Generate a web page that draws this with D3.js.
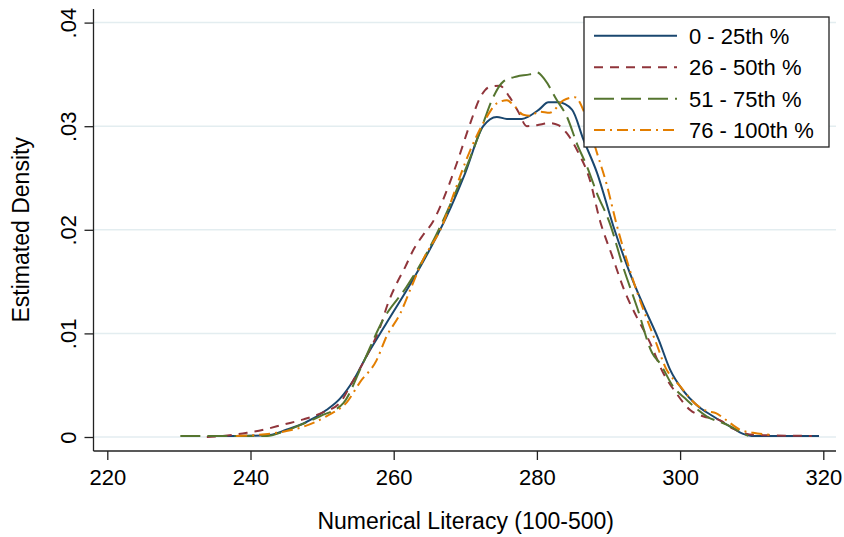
<!DOCTYPE html>
<html>
<head>
<meta charset="utf-8">
<script src="https://cdn.jsdelivr.net/npm/d3@7"></script>
<style>
  html, body { margin: 0; padding: 0; background: #ffffff; }
  svg { display: block; font-family: "Liberation Sans", Arial, sans-serif; }
</style>
</head>
<body>
<svg id="chart" width="844" height="537"></svg>
<script>
// ---- data ----
const seriesNames = ["0 - 25th %", "26 - 50th %", "51 - 75th %", "76 - 100th %"];

const q1 = [[235,0.0001],[238,0.0001],[242.7,0.0002],[245,0.0007],[247.4,0.0013],[250.6,0.0026],[252.5,0.0037],[254.4,0.0055],[256.2,0.0078],[259,0.011],[262.7,0.0152],[265.5,0.0187],[267.4,0.0213],[270,0.0255],[272.5,0.030],[274.4,0.0309],[275.8,0.0307],[277.9,0.0307],[279,0.031],[280.3,0.0316],[281.6,0.0323],[283,0.0323],[284.9,0.0316],[286.5,0.0287],[288.4,0.0255],[290.7,0.0203],[293,0.0158],[295,0.0125],[297,0.0094],[298.6,0.0065],[300.4,0.0045],[302.3,0.0031],[304.6,0.002],[307,0.001],[308.8,0.0003],[310,0.0001],[319.4,0.0001]];

const q2 = [[233.9,0.0000],[236,0.0001],[239.5,0.0004],[241.8,0.0007],[244.6,0.0012],[247.4,0.0017],[250.2,0.0024],[252.5,0.0033],[253.9,0.0049],[256.2,0.0078],[258.1,0.0106],[259.2,0.0129],[260.4,0.0148],[261.6,0.0164],[262.7,0.018],[264.1,0.0195],[265.5,0.0208],[266.9,0.0229],[268.8,0.0264],[270.7,0.0303],[272.1,0.0328],[273.4,0.0338],[274.8,0.0339],[276.2,0.0328],[277.4,0.0314],[278.6,0.030],[280,0.0301],[281.8,0.0303],[283,0.0301],[284.2,0.0293],[285.6,0.0277],[287.4,0.0248],[288.8,0.0209],[290.5,0.0175],[292.3,0.014],[294,0.0115],[295.6,0.0094],[297.7,0.0061],[299.5,0.0042],[301.4,0.0026],[303.2,0.002],[305.6,0.0016],[307.4,0.0008],[308.8,0.0004],[310.5,0.0002],[318.4,0.0001]];

const q3 = [[230.2,0.0001],[236,0.0001],[242.3,0.0001],[244.5,0.0005],[246.4,0.001],[249.7,0.002],[253,0.0033],[255.5,0.0068],[258.5,0.0113],[261.8,0.0145],[264.1,0.0171],[266,0.0196],[268,0.0226],[270.7,0.027],[272.5,0.0303],[273.9,0.0328],[275.3,0.0343],[277.2,0.0348],[279,0.035],[280,0.0352],[281.1,0.0345],[282.8,0.0325],[284.2,0.0309],[285.6,0.0283],[287,0.0261],[288.4,0.0235],[290.2,0.0206],[292,0.0165],[294,0.0125],[296.1,0.0081],[297.2,0.0071],[299,0.0049],[300.9,0.0036],[303.7,0.002],[306.5,0.0012],[308.4,0.0005],[309.5,0.0001]];

const q4 = [[238,0.0001],[241,0.0002],[243.6,0.0004],[247.4,0.001],[250.6,0.002],[253.5,0.0034],[255.3,0.0053],[257.6,0.0074],[259,0.0097],[260.9,0.0119],[262.3,0.0142],[264.1,0.0171],[266.9,0.0206],[268.3,0.0233],[270.7,0.0277],[273,0.0309],[274.4,0.0322],[275.8,0.0325],[276.9,0.0319],[278.1,0.0311],[279,0.031],[280.4,0.0314],[281.8,0.0313],[283.7,0.0325],[285.3,0.0328],[286.8,0.031],[288.4,0.0274],[289.7,0.0245],[291.1,0.0206],[293.5,0.015],[295.3,0.0115],[296.7,0.009],[297.9,0.0068],[300,0.0049],[302.3,0.0031],[303.8,0.0025],[305,0.0023],[306.5,0.0016],[308.4,0.0007],[310.2,0.0004],[313,0.0002]];

const xTicks = [220, 240, 260, 280, 300, 320];
const yTicks = [0, 0.01, 0.02, 0.03, 0.04];
const yTickLabels = ["0", ".01", ".02", ".03", ".04"];
const xTitle = "Numerical Literacy (100-500)";
const yTitle = "Estimated Density";

// ---- styles ----
const colors = ["#1a476f", "#90353b", "#55752f", "#e37e00"];
const dashes = [null, "9,7", "20,7", "11,5,2,5"];

const svg = d3.select("#chart");
const plotLeft = 93.5, plotRight = 836, plotTop = 9, plotBottom = 451;

const x = d3.scaleLinear().domain([220, 320]).range([107.3, 823.3]);
const y = d3.scaleLinear().domain([0, 0.04]).range([437, 22.6]);

// gridlines
svg.append("g").selectAll("line").data(yTicks).join("line")
  .attr("x1", plotLeft).attr("x2", plotRight)
  .attr("y1", d => y(d)).attr("y2", d => y(d))
  .attr("stroke", "#e3edf0").attr("stroke-width", 1.5);

// series
const line = d3.line().x(d => x(d[0])).y(d => y(d[1])).curve(d3.curveMonotoneX);
const series = [q1, q2, q3, q4];
svg.append("g").selectAll("path").data(series).join("path")
  .attr("d", d => line(d))
  .attr("fill", "none")
  .attr("stroke", (d, i) => colors[i])
  .attr("stroke-width", 2)
  .attr("stroke-dasharray", (d, i) => dashes[i]);

// y axis
const yAxis = d3.axisLeft(y).tickValues(yTicks).tickSize(9)
  .tickFormat((d, i) => yTickLabels[i]);
const gy = svg.append("g").attr("transform", `translate(${plotLeft},0)`).call(yAxis);
gy.select(".domain").attr("d", `M0,${plotTop}V${plotBottom}`).attr("stroke", "#222").attr("stroke-width", 1.3);
gy.selectAll(".tick line").attr("stroke", "#222").attr("stroke-width", 1.3);
gy.selectAll(".tick text")
  .attr("x", null).attr("dy", null)
  .attr("transform", "translate(-18,0) rotate(-90)")
  .attr("text-anchor", "middle")
  .attr("fill", "#000")
  .style("font-size", "22px");

// x axis
const xAxis = d3.axisBottom(x).tickValues(xTicks).tickSize(9).tickFormat(d3.format("d"));
const gx = svg.append("g").attr("transform", `translate(0,${plotBottom})`).call(xAxis);
gx.select(".domain").attr("d", `M${plotLeft},0H${plotRight}`).attr("stroke", "#222").attr("stroke-width", 1.3);
gx.selectAll(".tick line").attr("stroke", "#222").attr("stroke-width", 1.3);
gx.selectAll(".tick text")
  .attr("y", 34).attr("dy", null)
  .attr("fill", "#000")
  .style("font-size", "22px");

// axis titles
svg.append("text").attr("x", (plotLeft + plotRight) / 2 + 1).attr("y", 529)
  .attr("text-anchor", "middle").style("font-size", "23px").attr("fill", "#000")
  .text(xTitle);
svg.append("text").attr("transform", `translate(29,${(437 + 22.6) / 2}) rotate(-90)`)
  .attr("text-anchor", "middle").style("font-size", "23px").attr("fill", "#000")
  .text(yTitle);

// legend
const lg = svg.append("g");
lg.append("rect").attr("x", 584).attr("y", 17).attr("width", 245).attr("height", 130)
  .attr("fill", "#fff").attr("stroke", "#222").attr("stroke-width", 1.3);
const rowY = [35.7, 67.3, 98.7, 130];
seriesNames.forEach((name, i) => {
  lg.append("line").attr("x1", 594).attr("x2", 677).attr("y1", rowY[i]).attr("y2", rowY[i])
    .attr("stroke", colors[i]).attr("stroke-width", 2).attr("stroke-dasharray", dashes[i]);
  lg.append("text").attr("x", 689).attr("y", rowY[i] + 8)
    .style("font-size", "22px").attr("fill", "#000").text(name);
});
</script>
</body>
</html>
